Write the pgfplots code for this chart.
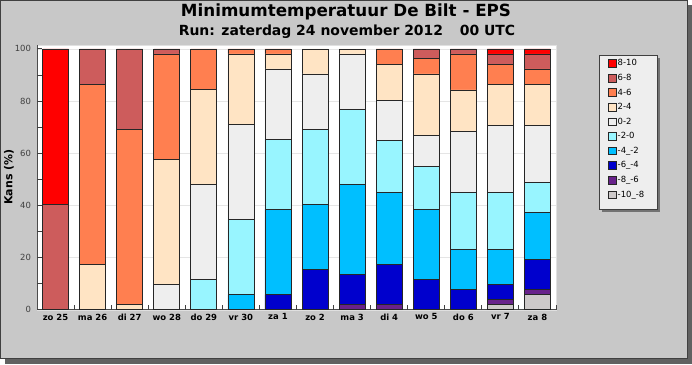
\documentclass[border=0pt]{standalone}
\usepackage{pgfplots}
\pgfplotsset{compat=1.18}
\usepackage{pgfplotstable}
\usepackage{fontspec}
\setmainfont{DejaVu Sans}
\definecolor{panel}{HTML}{C8C8C8}
\definecolor{cA}{HTML}{FF0000}
\definecolor{cB}{HTML}{CD5C5C}
\definecolor{cC}{HTML}{FF7F50}
\definecolor{cD}{HTML}{FFE4C4}
\definecolor{cE}{HTML}{EEEEEE}
\definecolor{cF}{HTML}{98F5FF}
\definecolor{cG}{HTML}{00BFFF}
\definecolor{cH}{HTML}{0000CD}
\definecolor{cI}{HTML}{68228B}
\definecolor{cJ}{HTML}{CDC9C9}
\pgfplotstableread{
x  m10  m8  m6  m4  m2  p0  p2  p4  p6  p8
0  0    0   0   0   0   0   0   0   40.4 59.6
1  0    0   0   0   0   0   17.3 69.2 13.5 0
2  0    0   0   0   0   0   1.9 67.3 30.8 0
3  0    0   0   0   0   9.6 48.1 40.4 1.9 0
4  0    0   0   0   11.5 36.6 36.5 15.4 0 0
5  0    0   0   5.8 28.8 36.6 26.9 1.9 0 0
6  0    0   5.8 32.7 26.9 26.9 5.8 1.9 0 0
7  0    0   15.4 25.0 28.8 21.2 9.6 0 0 0
8  0    1.9 11.6 34.6 28.8 21.2 1.9 0 0 0
9  0    1.9 15.4 27.7 19.9 15.5 13.8 5.8 0 0
10 0    0   11.5 27.0 16.4 11.8 23.7 5.8 3.8 0
11 0    0   7.7 15.4 21.9 23.5 15.8 13.8 1.9 0
12 1.9  1.9 5.8 13.5 21.9 25.5 16.0 7.7 3.9 1.9
13 5.8  1.9 11.7 17.9 11.6 21.6 15.8 6.0 5.8 1.9
}\data
\begin{document}
\begin{tikzpicture}[x=1bp,y=1bp]
\useasboundingbox (0,0) rectangle (692,364);
\fill[black!62] (5,0) rectangle (692,359);
\filldraw[fill=panel,draw=black!75,line width=0.8bp] (0.4,5.5) rectangle (687,363.6);
\node[font=\fontsize{16.8}{20}\selectfont\bfseries] at (346,352.5) {Minimumtemperatuur De Bilt - EPS};
\node[font=\fontsize{14}{16}\selectfont\bfseries] at (347,332.5) {Run: zaterdag 24 november 2012\hspace{1.2em}00 UTC};
\node[rotate=90,font=\fontsize{11}{13}\selectfont\bfseries] at (9,187) {Kans (\%)};
% legend box
\fill[black!55] (602,152) rectangle (660,306);
\filldraw[fill=cE,draw=black!75,line width=0.8bp] (599,155) rectangle (657,309);
\begin{axis}[
  at={(37bp,54.3bp)}, anchor=south west,
  scale only axis, width=519bp, height=264.7bp,
  xmin=-0.5, xmax=13.5, ymin=0, ymax=101.5,
  ybar stacked, bar width=26bp,
  axis background/.style={fill=white,draw=black!12},
  axis lines*=left, axis line style={-,draw=black!70,line width=0.8bp},
  xtick={0,...,13},
  xticklabels={zo 25,ma 26,di 27,wo 28,do 29,vr 30,za 1,zo 2,ma 3,di 4,wo 5,do 6,vr 7,za 8},
  x tick label style={font=\fontsize{8.5}{10}\selectfont\bfseries,yshift=-0.5bp},
  ytick={0,20,...,100},
  y tick label style={font=\fontsize{8.5}{10}\selectfont,text=black!75,xshift=-2.5bp},
  /pgf/number format/assume math mode=true,
  tick style={draw=none},
  ymajorgrids, grid style={draw=black!10,line width=0.8bp},
  every axis plot/.append style={draw=black!85,line width=0.7bp},
  reverse legend,
  legend image code/.code={\draw[#1,draw=black!85,line width=0.8bp] (0bp,-3.8bp) rectangle (7.6bp,3.8bp);},
  legend style={at={(1.1000,0.950)},anchor=north west,draw=none,fill=none,
    font=\fontsize{8.5}{10}\selectfont,row sep=4.4bp,inner sep=0pt,
    nodes={inner sep=1.2bp}},
  legend cell align=left,
]
\addplot[fill=cJ] table[x=x,y=m10]{\data};
\addplot[fill=cI] table[x=x,y=m8]{\data};
\addplot[fill=cH] table[x=x,y=m6]{\data};
\addplot[fill=cG] table[x=x,y=m4]{\data};
\addplot[fill=cF] table[x=x,y=m2]{\data};
\addplot[fill=cE] table[x=x,y=p0]{\data};
\addplot[fill=cD] table[x=x,y=p2]{\data};
\addplot[fill=cC] table[x=x,y=p4]{\data};
\addplot[fill=cB] table[x=x,y=p6]{\data};
\addplot[fill=cA] table[x=x,y=p8]{\data};
\legend{-10\_-8,-8\_-6,-6\_-4,-4\_-2,-2-0,0-2,2-4,4-6,6-8,8-10}
\end{axis}
% axis ticks (decoration)
\foreach \i in {1,...,14} \draw[black!75,line width=0.9bp] ({37+\i*37.0714},54.3) -- ++(0,4.5);
\foreach \v in {0,...,10} \draw[black!75,line width=0.9bp] (37,{54.3+\v*26.079}) -- ++(4.5,0);
\end{tikzpicture}
\end{document}
